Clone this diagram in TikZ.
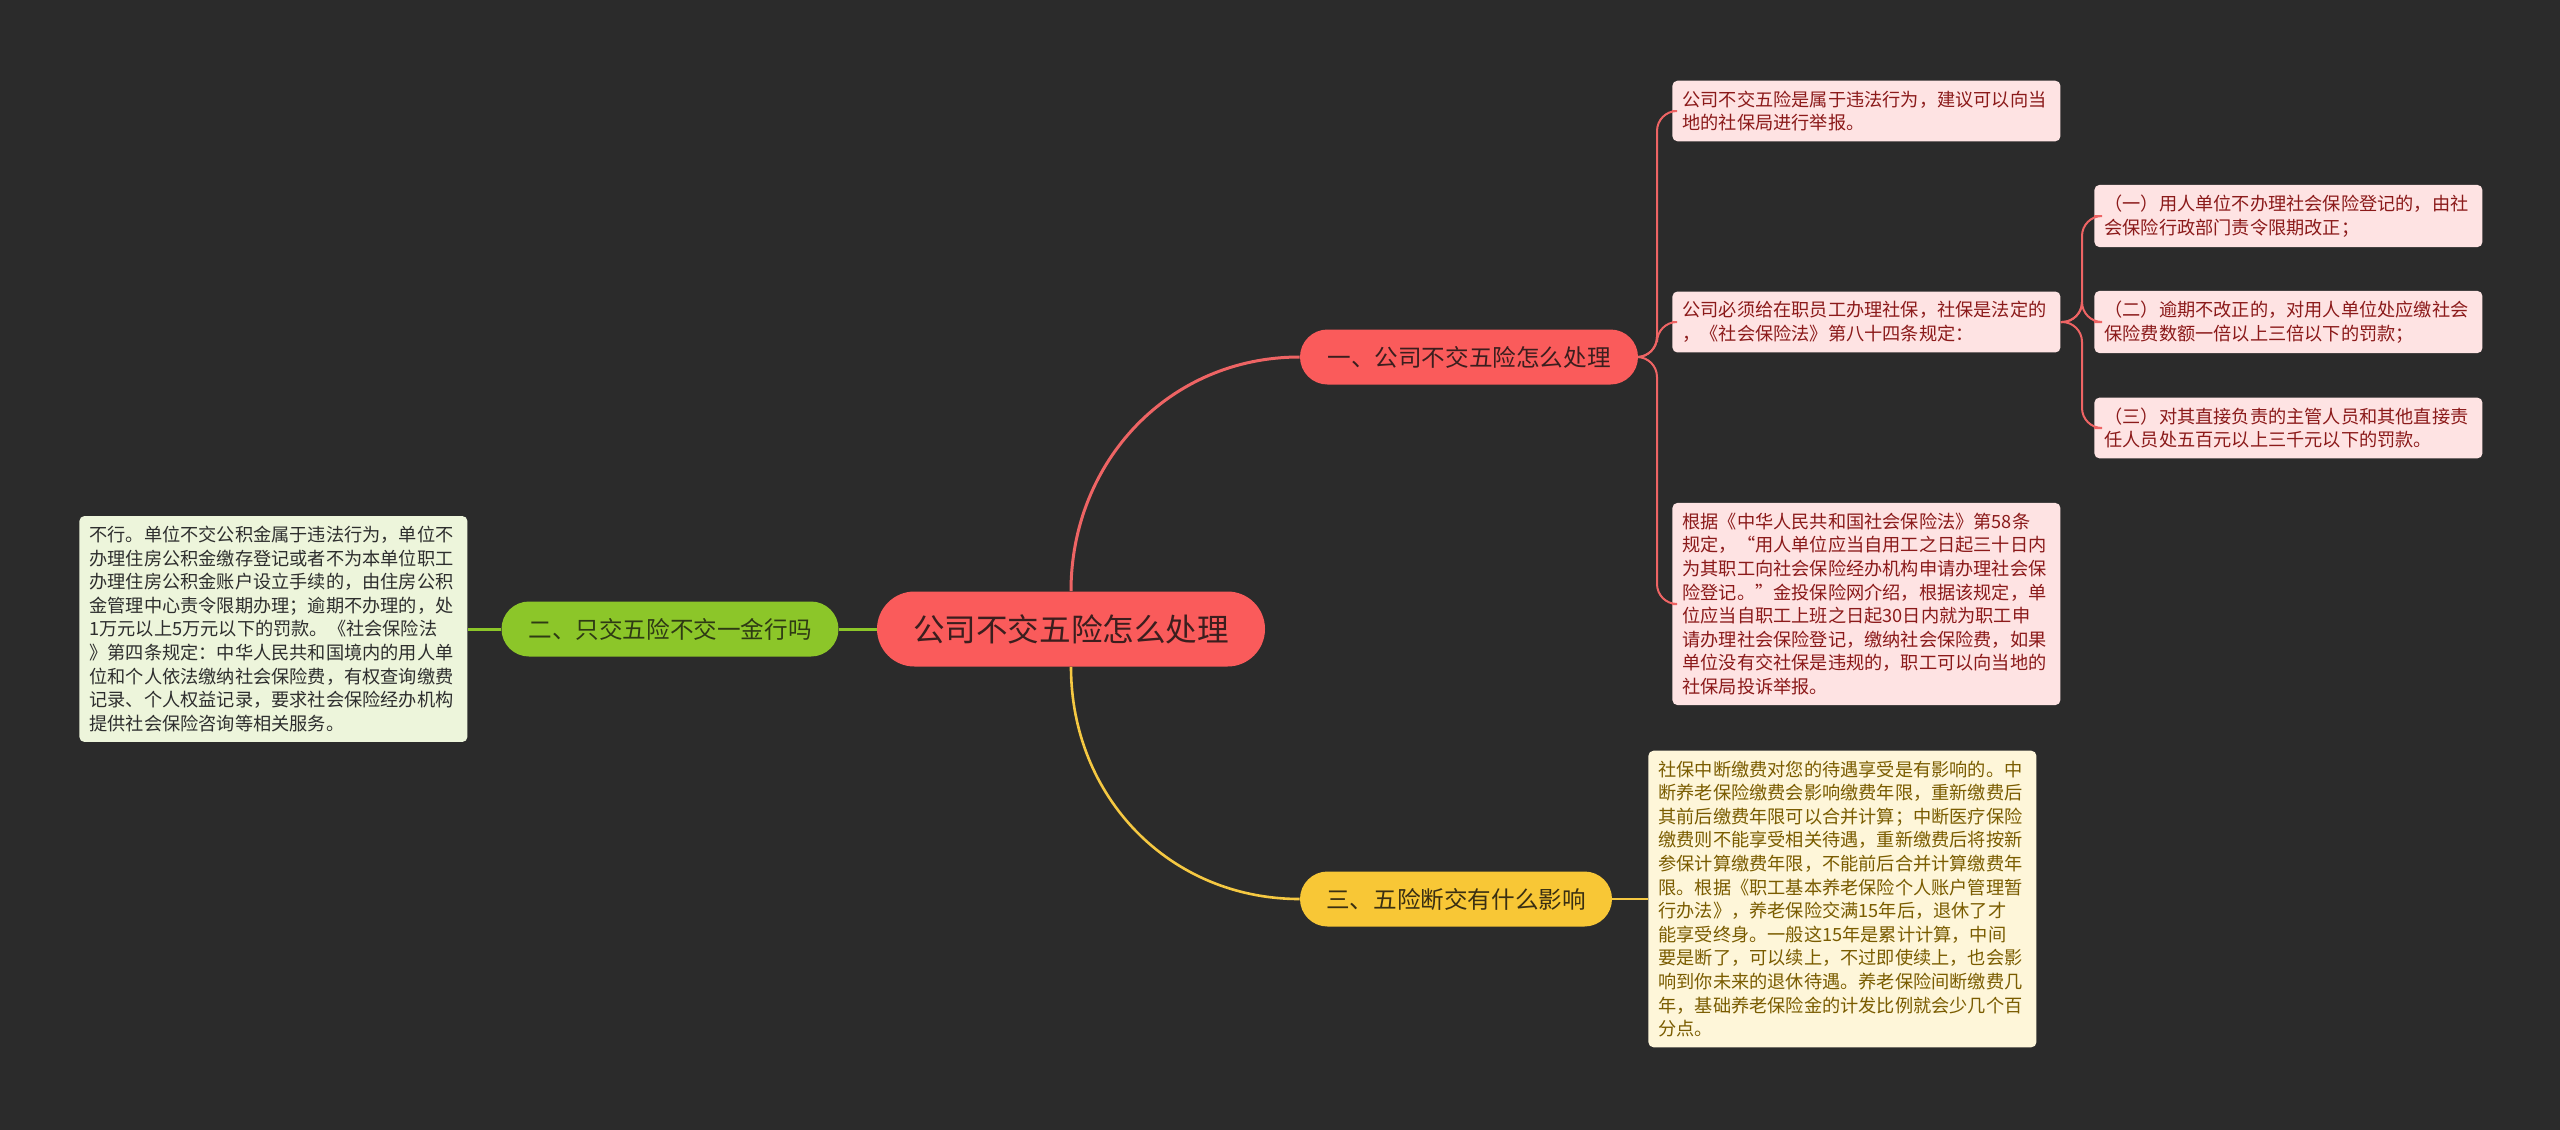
\documentclass[tikz,border=0pt]{standalone}
\usepackage{fontspec}
\setmainfont{Noto Sans CJK SC}
\definecolor{Canvas}{HTML}{2B2B2B}
\definecolor{CoreRed}{HTML}{FA5B5B}
\definecolor{RedInk}{HTML}{3B1E1E}
\definecolor{RedLine}{HTML}{EE6464}
\definecolor{PinkNote}{HTML}{FEE3E3}
\definecolor{PinkInk}{HTML}{8B1A1A}
\definecolor{LeafGreen}{HTML}{8CC629}
\definecolor{GreenInk}{HTML}{2E3A14}
\definecolor{GreenNote}{HTML}{EDF5DB}
\definecolor{NoteInk}{HTML}{2E2E2E}
\definecolor{Sun}{HTML}{F8C736}
\definecolor{SunInk}{HTML}{3A2F12}
\definecolor{SunLine}{HTML}{F5C842}
\definecolor{CreamNote}{HTML}{FEF6D9}
\definecolor{CreamInk}{HTML}{7A5C00}

\begin{document}
\begin{tikzpicture}[x=0.5pt,y=-0.5pt,
  pill/.style={rounded corners=13.75pt,inner sep=0pt,minimum height=27.5pt,font=\fontsize{11.8}{14}\selectfont},
  note/.style={anchor=west,align=left,text width=184pt,inner xsep=5pt,inner ysep=5pt,rounded corners=2.5pt,font=\fontsize{9.1}{11.8}\selectfont},
  redline/.style={draw=RedLine,line width=1.5pt},
  spine/.style={draw=RedLine,line width=1pt,rounded corners=10pt},
  greenline/.style={draw=LeafGreen,line width=1.5pt},
  sunline/.style={draw=SunLine,line width=1.3pt}]
\fill[Canvas] (0,0) rectangle (2560,1130);

\node[pill,fill=CoreRed,text=RedInk,minimum width=194pt,minimum height=37.5pt,rounded corners=18.75pt,font=\fontsize{15.8}{18}\selectfont] (core) at (1071,629) {公司不交五险怎么处理};
\node[pill,fill=LeafGreen,text=GreenInk,minimum width=168.5pt] (left) at (670,629) {二、只交五险不交一金行吗};
\node[pill,fill=CoreRed,text=RedInk,minimum width=169pt] (b1) at (1469,357) {一、公司不交五险怎么处理};
\node[pill,fill=Sun,text=SunInk,minimum width=156pt] (b3) at (1456,899) {三、五险断交有什么影响};

\node[note,fill=GreenNote,text=NoteInk] (gbox) at (79,629) {不行。单位不交公积金属于违法行为，单位不\\办理住房公积金缴存登记或者不为本单位职工\\办理住房公积金账户设立手续的，由住房公积\\金管理中心责令限期办理；逾期不办理的，处\\1万元以上5万元以下的罚款。《社会保险法\\》第四条规定：中华人民共和国境内的用人单\\位和个人依法缴纳社会保险费，有权查询缴费\\记录、个人权益记录，要求社会保险经办机构\\提供社会保险咨询等相关服务。};

\node[note,fill=PinkNote,text=PinkInk] (n1) at (1672,111) {公司不交五险是属于违法行为，建议可以向当\\地的社保局进行举报。};
\node[note,fill=PinkNote,text=PinkInk] (n2) at (1672,322) {公司必须给在职员工办理社保，社保是法定的\\，《社会保险法》第八十四条规定：};
\node[note,fill=PinkNote,text=PinkInk] (n3) at (1672,604) {根据《中华人民共和国社会保险法》第58条\\规定，“用人单位应当自用工之日起三十日内\\为其职工向社会保险经办机构申请办理社会保\\险登记。”金投保险网介绍，根据该规定，单\\位应当自职工上班之日起30日内就为职工申\\请办理社会保险登记，缴纳社会保险费，如果\\单位没有交社保是违规的，职工可以向当地的\\社保局投诉举报。};

\node[note,fill=PinkNote,text=PinkInk] (m1) at (2094,216) {（一）用人单位不办理社会保险登记的，由社\\会保险行政部门责令限期改正；};
\node[note,fill=PinkNote,text=PinkInk] (m2) at (2094,322) {（二）逾期不改正的，对用人单位处应缴社会\\保险费数额一倍以上三倍以下的罚款；};
\node[note,fill=PinkNote,text=PinkInk] (m3) at (2094,428) {（三）对其直接负责的主管人员和其他直接责\\任人员处五百元以上三千元以下的罚款。};

\node[note,fill=CreamNote,text=CreamInk] (ybox) at (1648,899) {社保中断缴费对您的待遇享受是有影响的。中\\断养老保险缴费会影响缴费年限，重新缴费后\\其前后缴费年限可以合并计算；中断医疗保险\\缴费则不能享受相关待遇，重新缴费后将按新\\参保计算缴费年限，不能前后合并计算缴费年\\限。根据《职工基本养老保险个人账户管理暂\\行办法》，养老保险交满15年后，退休了才\\能享受终身。一般这15年是累计计算，中间\\要是断了，可以续上，不过即使续上，也会影\\响到你未来的退休待遇。养老保险间断缴费几\\年，基础养老保险金的计发比例就会少几个百\\分点。};

\draw[redline] (core.north) .. controls +(0,-130) and +(-130,0) .. (b1.west);
\draw[sunline] (core.south) .. controls +(0,130) and +(-130,0) .. (b3.west);
\draw[greenline] (core.west) -- (left.east);
\draw[greenline] (left.west) -- (gbox.east);
\draw[sunline] (b3.east) -- (ybox.west);

\coordinate (s1) at (1657,357);
\foreach \n in {n1,n2,n3} \draw[spine] (b1.east) -- (s1) |- (\n.west);
\coordinate (s2) at (2082,322);
\foreach \m in {m1,m2,m3} \draw[spine] (n2.east) -- (s2) |- (\m.west);

\end{tikzpicture}
\end{document}
